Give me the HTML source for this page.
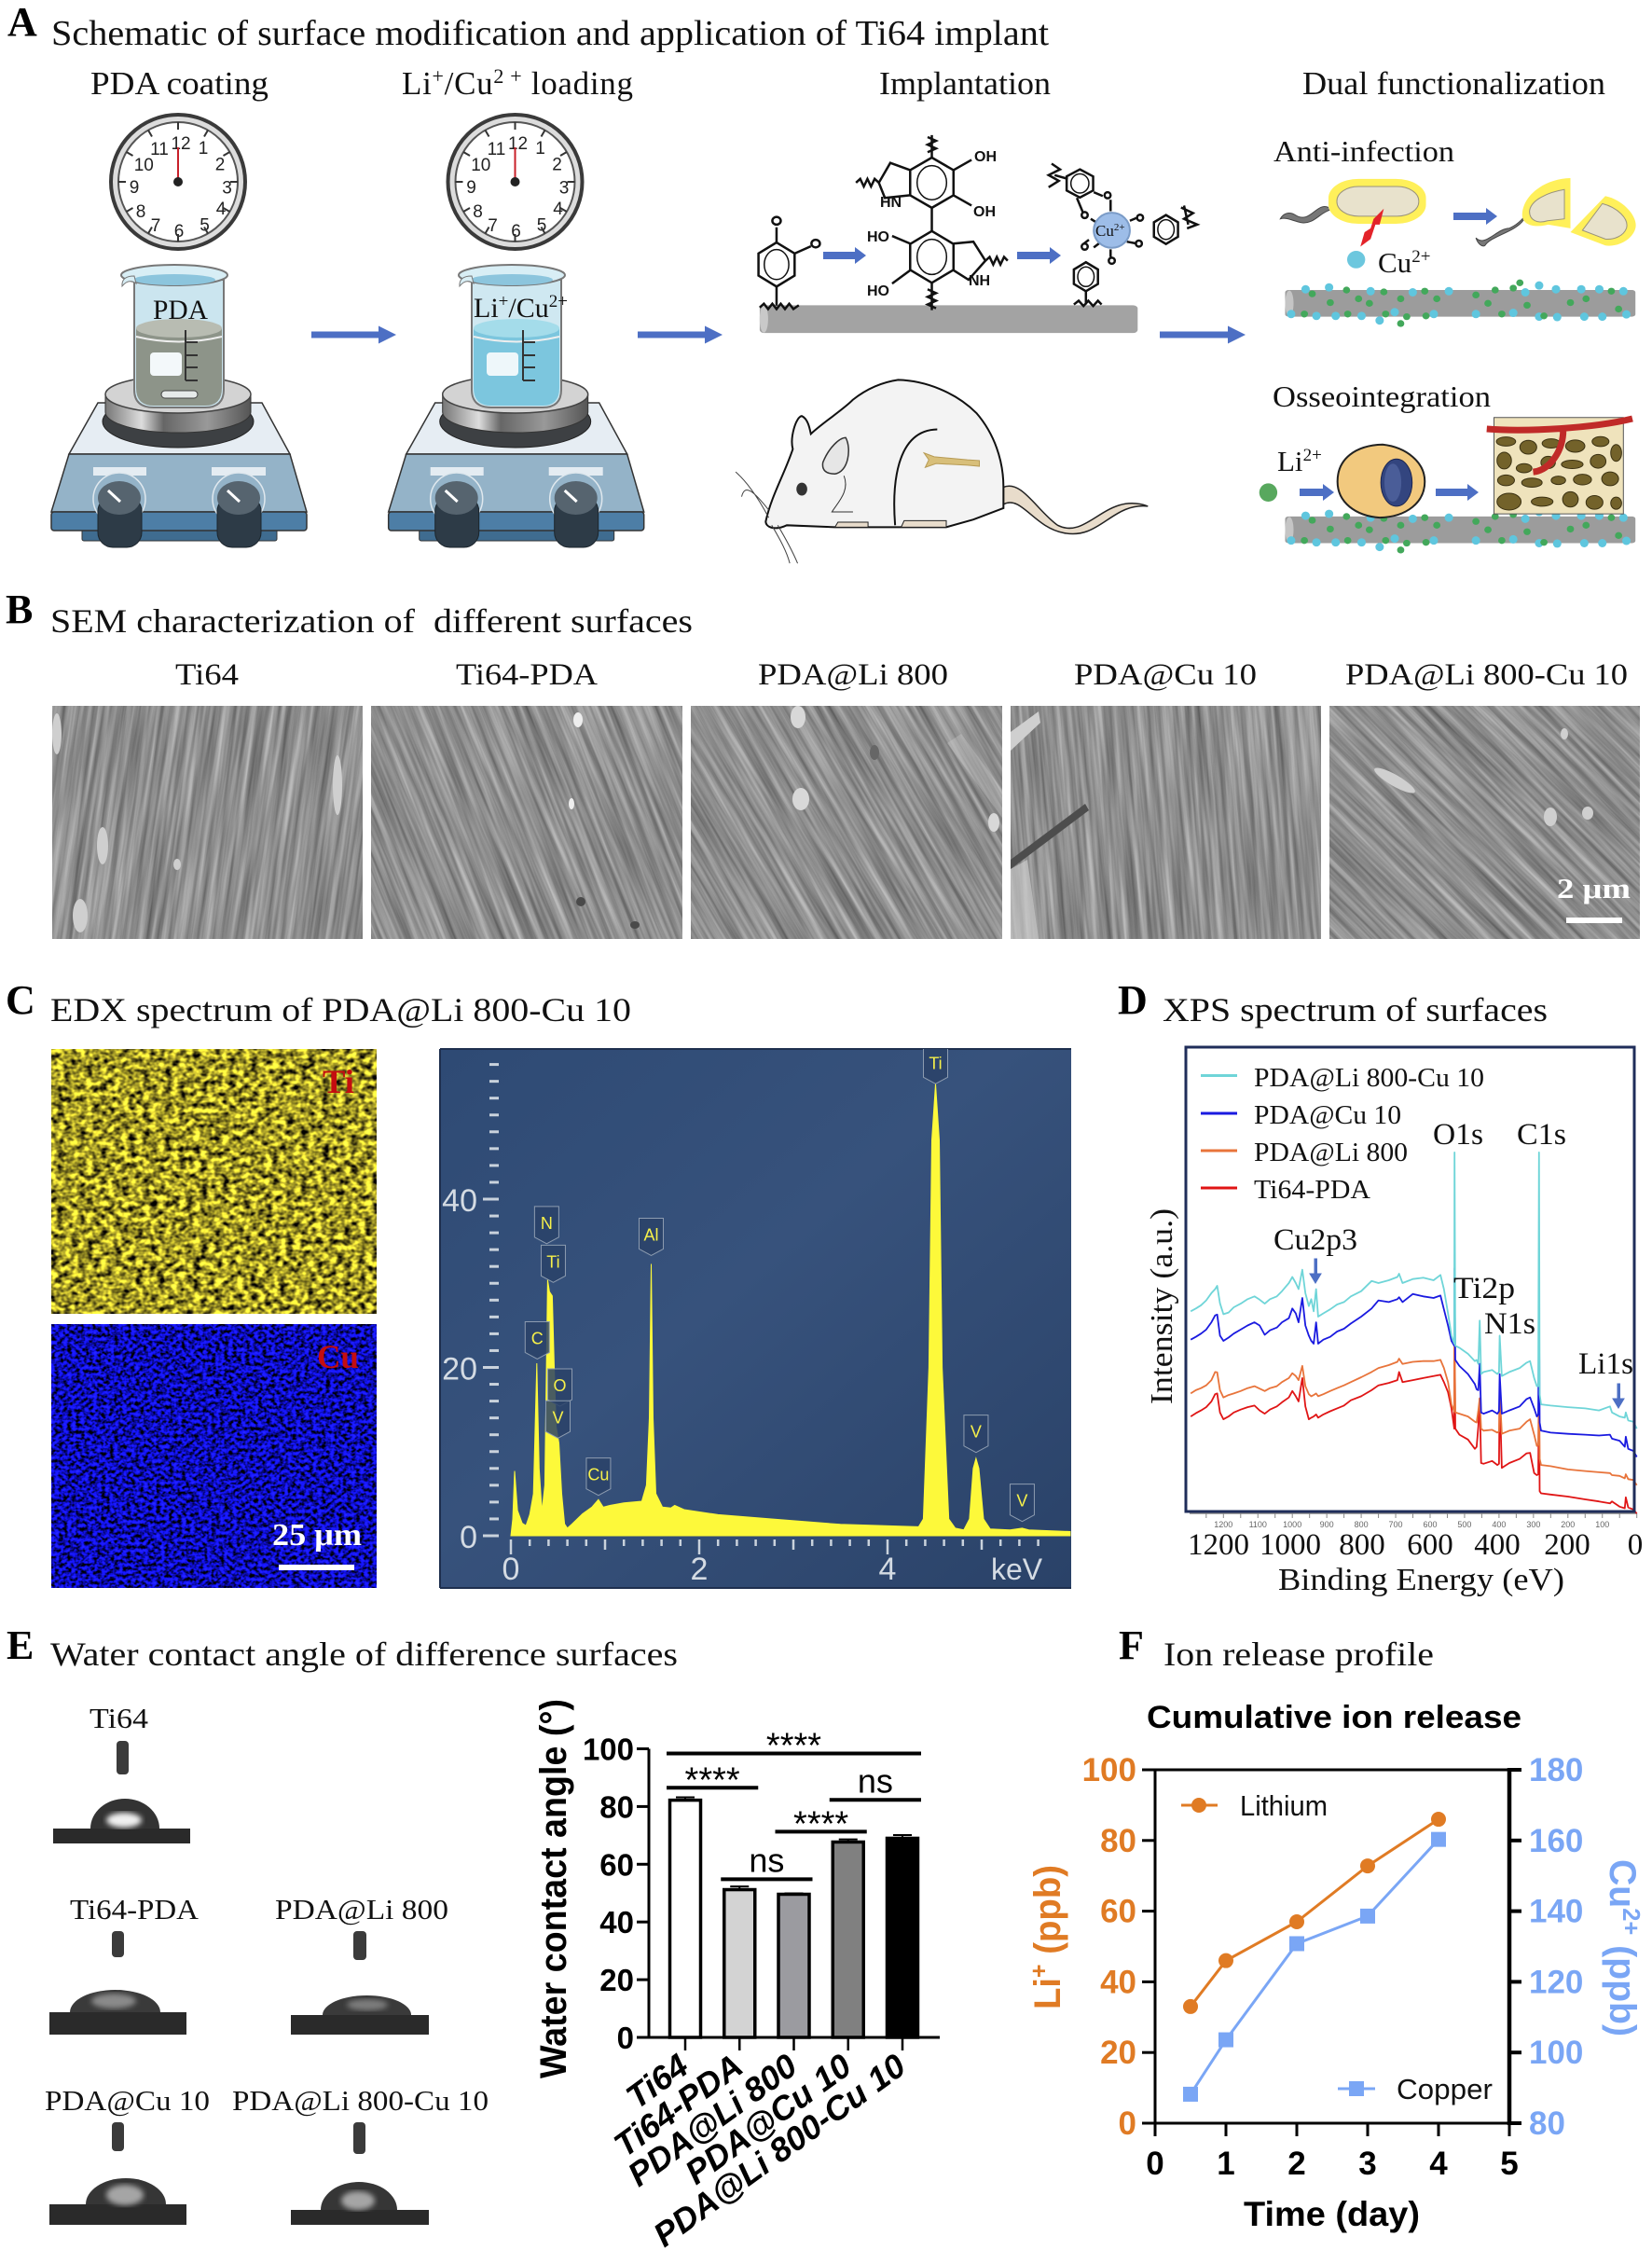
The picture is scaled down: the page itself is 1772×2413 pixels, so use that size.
<!DOCTYPE html>
<html lang="en">
<head>
<meta charset="utf-8">
<title>Ti64 implant surface modification figure</title>
<style>
html,body{margin:0;padding:0;background:#fff}
svg#fig{display:block}
text{white-space:pre}
.s{font-family:"Liberation Serif",serif;fill:#111}
.h{font-family:"Liberation Serif",serif;font-weight:bold;fill:#000;font-size:44px}
.a{font-family:"Liberation Sans",sans-serif}
#z2 *{vector-effect:non-scaling-stroke}
</style>
</head>
<body>
<svg id="fig" xmlns="http://www.w3.org/2000/svg" width="1772" height="2413" viewBox="0 0 1772 2413">
<defs>
  <filter id="sem" x="0" y="0" width="100%" height="100%" color-interpolation-filters="sRGB">
    <feTurbulence type="fractalNoise" baseFrequency="0.006 0.17" numOctaves="4" seed="7"/>
    <feColorMatrix type="matrix" values="0.5 0 0 0 0.31  0.5 0 0 0 0.31  0.5 0 0 0 0.31  0 0 0 0 1"/>
  </filter>
  <filter id="tiNoise" x="0" y="0" width="100%" height="100%" color-interpolation-filters="sRGB">
    <feTurbulence type="fractalNoise" baseFrequency="0.13 0.17" numOctaves="2" seed="4"/>
    <feColorMatrix type="matrix" values="2.2 0 0 0 -0.47  2.1 0 0 0 -0.46  0.5 0 0 0 -0.1  0 0 0 0 1"/>
  </filter>
  <filter id="cuNoise" x="0" y="0" width="100%" height="100%" color-interpolation-filters="sRGB">
    <feTurbulence type="fractalNoise" baseFrequency="0.22 0.26" numOctaves="2" seed="11"/>
    <feColorMatrix type="matrix" values="0.3 0 0 0 -0.1  0.3 0 0 0 -0.1  3 0 0 0 -0.8  0 0 0 0 1"/>
  </filter>
  <filter id="blur3"><feGaussianBlur stdDeviation="3"/></filter>
  <linearGradient id="edxBg" x1="0" y1="0" x2="1" y2="1">
    <stop offset="0" stop-color="#2e4a74"/><stop offset="0.45" stop-color="#37527c"/><stop offset="1" stop-color="#2a4268"/>
  </linearGradient>
  <linearGradient id="steel" x1="0" x2="1" y1="0" y2="0">
    <stop offset="0" stop-color="#777"/><stop offset="0.25" stop-color="#ddd"/><stop offset="0.4" stop-color="#666"/><stop offset="0.7" stop-color="#999"/><stop offset="1" stop-color="#555"/>
  </linearGradient>
  <g id="hotplate">
    <path d="M105 432H281L311 487H74Z" fill="#e6edf3" stroke="#333" stroke-width="1.5"/>
    <path d="M74 487H311L329 549H55Z" fill="#94b3c8" stroke="#333" stroke-width="1.5"/>
    <rect x="88" y="566" width="209" height="14" rx="2" fill="#3f6c90" stroke="#333"/>
    <rect x="55" y="549" width="274" height="20" rx="3" fill="#4d7ea6" stroke="#333" stroke-width="1.5"/>
    <rect x="100" y="501" width="57" height="9" fill="#e4ecf2"/>
    <rect x="227" y="501" width="58" height="9" fill="#e4ecf2"/>
    <ellipse cx="191" cy="452" rx="81" ry="28" fill="#3d4043" stroke="#222"/>
    <path d="M113 424V442A78 22 0 0 0 269 442V424Z" fill="url(#steel)" stroke="#333"/>
    <ellipse cx="191" cy="423" rx="78" ry="20" fill="#d3d3d3" stroke="#444" stroke-width="1.5"/>
    <circle cx="128" cy="535" r="28" fill="#94b3c8" stroke="#dfe8ee" stroke-width="1.5"/>
    <circle cx="256" cy="535" r="28" fill="#94b3c8" stroke="#dfe8ee" stroke-width="1.5"/>
    <rect x="105" y="532" width="47" height="55" rx="16" fill="#2d3b47" stroke="#1c252c"/>
    <rect x="233" y="532" width="47" height="55" rx="16" fill="#2d3b47" stroke="#1c252c"/>
    <ellipse cx="128" cy="534" rx="23" ry="18" fill="#56646f"/>
    <ellipse cx="256" cy="534" rx="23" ry="18" fill="#56646f"/>
    <path d="M116 526L129 538M244 526L257 538" stroke="#fff" stroke-width="3"/>
  </g>
  <clipPath id="tiClip"><rect x="55" y="1125" width="349" height="284"/></clipPath>
  <clipPath id="cuClip"><rect x="55" y="1420" width="349" height="283"/></clipPath>
  <clipPath id="edxClip"><rect x="472" y="1125" width="677" height="578"/></clipPath>
</defs>
<rect width="1772" height="2413" fill="#fff"/>

<!-- PANEL A -->
<g>
  <text class="h" x="8" y="38">A</text>
  <text class="s" x="55" y="48" font-size="38" textLength="1070" lengthAdjust="spacingAndGlyphs">Schematic of surface modification and application of Ti64 implant</text>
  <text class="s" x="97" y="101" font-size="35" textLength="191" lengthAdjust="spacingAndGlyphs">PDA coating</text>
  <text class="s" x="431" y="101" font-size="35" textLength="248" lengthAdjust="spacing">Li<tspan dy="-12" font-size="22">+</tspan><tspan dy="12">/Cu</tspan><tspan dy="-12" font-size="22">2 +</tspan><tspan dy="12"> loading</tspan></text>
  <text class="s" x="943" y="101" font-size="35" textLength="184" lengthAdjust="spacingAndGlyphs">Implantation</text>
  <text class="s" x="1397" y="101" font-size="35" textLength="325" lengthAdjust="spacingAndGlyphs">Dual functionalization</text>

  <g id="clocks"></g>

  <use href="#hotplate"/>
  <use href="#hotplate" x="361.7"/>

  <g>
    <path d="M144 300V418Q144 437 165 437H220Q240 437 240 418V300Z" fill="#cbe5ef" stroke="#777" stroke-width="2"/>
    <path d="M146 352Q192 338 238 352V416Q238 435 220 435H165Q146 435 146 416Z" fill="#8d9489"/>
    <ellipse cx="192" cy="352" rx="46" ry="10" fill="#b8bcb2"/>
    <path d="M146 361Q192 372 238 361" fill="none" stroke="#eee" stroke-width="2"/>
    <ellipse cx="187" cy="295" rx="57" ry="11" fill="#d8eef5" stroke="#777" stroke-width="2"/>
    <ellipse cx="187" cy="300" rx="44" ry="6" fill="#8cc5dd"/>
    <path d="M144 296Q130 296 131 307Q138 298 146 304Z" fill="#d8eef5" stroke="#777"/>
    <rect x="161" y="378" width="34" height="25" rx="4" fill="#f3f8fa"/>
    <path d="M199 354V408M199 367H212M199 381H212M199 394H212M199 408H212" fill="none" stroke="#333" stroke-width="2"/>
    <rect x="173" y="419" width="39" height="8" rx="4" fill="#e6eaea" stroke="#444"/>
  </g>
  <text class="s" x="164" y="342" font-size="30" textLength="59" lengthAdjust="spacingAndGlyphs">PDA</text>

  <g>
    <path d="M506 300V418Q506 437 527 437H582Q602 437 602 418V300Z" fill="#cfe8f1" stroke="#777" stroke-width="2"/>
    <path d="M508 352Q554 338 600 352V416Q600 435 582 435H527Q508 435 508 416Z" fill="#7cc6de"/>
    <ellipse cx="554" cy="352" rx="46" ry="10" fill="#a4dcea"/>
    <path d="M508 361Q554 372 600 361" fill="none" stroke="#eee" stroke-width="2"/>
    <ellipse cx="549" cy="295" rx="57" ry="11" fill="#d8eef5" stroke="#777" stroke-width="2"/>
    <ellipse cx="549" cy="300" rx="44" ry="6" fill="#8cc5dd"/>
    <path d="M506 296Q492 296 493 307Q500 298 508 304Z" fill="#d8eef5" stroke="#777"/>
    <rect x="522" y="378" width="34" height="25" rx="4" fill="#eef7fa"/>
    <path d="M561 354V408M561 367H574M561 381H574M561 394H574M561 408H574" fill="none" stroke="#333" stroke-width="2"/>
  </g>
  <text class="s" x="508" y="340" font-size="30">Li<tspan dy="-11" font-size="19">+</tspan><tspan dy="11">/Cu</tspan><tspan dy="-11" font-size="19">2+</tspan></text>

  <g fill="#4d6fc4">
    <path d="M334 355.5H406V349.5L425 359L406 368.5V362.500H334Z"/>
    <path d="M684 355.5H756V349.5L775 359L756 368.5V362.500H684Z"/>
    <path d="M1244 355.5H1317V349.5L1336 359L1317 368.5V362.500H1244Z"/>
    <path d="M883 270H917V265L929 274L917 283V278H883Z"/>
    <path d="M1091 270H1126V265L1138 274L1126 283V278H1091Z"/>
    <path d="M1559 228H1594V223L1606 232L1594 241V236H1559Z"/>
    <path d="M1394 524H1419V519L1431 528L1419 537V532H1394Z"/>
    <path d="M1540 524H1574V519L1586 528L1574 537V532H1540Z"/>
  </g>

  <g id="z2" transform="translate(760,0) scale(0.6456,0.4082)">
    <g>
      <rect x="85" y="802" width="628" height="73" rx="8" fill="#a3a3a3"/>
      <ellipse cx="92" cy="838" rx="7" ry="36" fill="#c9c9c9"/>
    </g>
    <g id="rings" fill="none" stroke="#111" stroke-width="2.5">
      <path d="M113 637V597M143 666L170 647M113 753V803M371 414V355M407 447L437 420M407 513L437 540M371 546V607M335 447L302 428L283 480L293 520L335 513M335 640L305 620M335 710L305 745M371 743V815M407 640L440 635L460 685L432 735L407 710"/>
      <path d="M85 808L92 798L99 812L106 798L113 812L120 798L127 812L134 798L141 812L150 802"/>
      <path d="M245 480L252 470L258 490L264 470L270 490L276 470L283 480M460 685L467 675L473 695L479 675L485 695L491 675L497 685M364 360L378 370L364 380L378 390L364 400M364 760L378 770L364 780L378 790L364 800L378 810"/>
      <path d="M597 470L575 460M570 430L584 445L565 460L582 475L565 492M797 590L790 540M785 545L805 560L790 575L812 590L795 600M627 765V800M607 800L615 790L623 804L631 790L639 804L647 790L653 800"/>
      <path d="M640 505L655 515M612 520L622 558M668 525L668 555M635 575L650 590M700 580L712 572M695 635L712 640M632 630L622 642M640 650L655 632M668 655L668 675"/>
      <ellipse cx="113" cy="580" rx="7" ry="10" fill="#fff"/>
      <ellipse cx="178" cy="640" rx="7" ry="10" fill="#fff"/>
      <ellipse cx="663" cy="513" rx="5" ry="8" fill="#fff"/>
      <ellipse cx="625" cy="565" rx="5" ry="8" fill="#fff"/>
      <ellipse cx="717" cy="572" rx="5" ry="8" fill="#fff"/>
      <ellipse cx="715" cy="640" rx="5" ry="8" fill="#fff"/>
      <ellipse cx="625" cy="648" rx="5" ry="8" fill="#fff"/>
      <ellipse cx="670" cy="685" rx="5" ry="8" fill="#fff"/>
    </g>
    <ellipse cx="670" cy="605" rx="30" ry="46" fill="#9dbde8" stroke="#7a9bc7" stroke-width="2"/>

    <g>
      <path d="M490 1280C520 1260 545 1340 580 1380C630 1420 660 1290 730 1330C670 1320 650 1420 590 1400C540 1385 520 1300 490 1325Z" fill="#e8dccb" stroke="#222" stroke-width="1.5"/>
      <path d="M95 1370C105 1300 125 1250 140 1180C135 1150 145 1095 155 1093C165 1100 168 1125 170 1140C190 1110 225 1075 240 1050C260 1025 285 1005 315 998C360 1000 410 1030 445 1085C475 1140 490 1210 490 1280L490 1335L440 1365L395 1385L320 1385L210 1385L130 1380C110 1395 95 1385 95 1370Z" fill="#f3f3f3" stroke="#111" stroke-width="2"/>
      <path d="M310 1380C305 1280 310 1130 380 1128" fill="none" stroke="#111" stroke-width="2"/>
      <path d="M190 1215C200 1175 218 1150 228 1150C238 1180 232 1240 210 1245C195 1245 188 1235 190 1215Z" fill="#e6e6e6" stroke="#333" stroke-width="1.5"/>
      <path d="M225 1250C235 1290 215 1320 205 1345L240 1345" fill="none" stroke="#333"/>
      <ellipse cx="155" cy="1285" rx="9" ry="17" fill="#333"/>
      <path d="M100 1360C80 1300 60 1260 45 1240M100 1340C75 1290 60 1270 55 1305M105 1380C120 1420 130 1450 135 1480M115 1380C130 1420 140 1450 148 1480" fill="none" stroke="#444"/>
      <path d="M210 1385H265V1372H215ZM320 1385H395V1368H325Z" fill="#e8dccb" stroke="#222"/>
      <path d="M358 1190L375 1200L430 1208L450 1210V1225L430 1222L378 1218L360 1228L366 1208Z" fill="#d8bf7a" stroke="#b79b55"/>
    </g>

    <g>
      <path d="M1030 545C1010 530 1000 590 975 565C965 555 955 560 950 575C960 570 970 580 985 585C1005 590 1015 560 1032 552" fill="#777" stroke="#444"/>
      <rect x="1030" y="470" width="162" height="118" rx="50" ry="50" fill="#fff05a"/>
      <rect x="1044" y="490" width="136" height="78" rx="36" ry="38" fill="#e8e2cc" stroke="#9a937c"/>
      <path d="M1122 548L1115 590L1108 590L1100 628L1083 648L1090 610L1100 600L1105 575Z" fill="#e3232a"/>
      <path d="M1275 625C1290 650 1310 600 1330 600C1345 590 1352 575 1358 565L1354 578C1340 610 1300 620 1290 645C1285 650 1278 640 1275 625Z" fill="#777" stroke="#444"/>
      <path d="M1352 560C1355 510 1390 470 1432 468V600L1395 590C1370 600 1350 590 1352 560Z" fill="#fff05a"/>
      <path d="M1364 555C1366 525 1395 505 1422 498V575L1394 580C1378 588 1364 580 1364 555Z" fill="#e8e2cc" stroke="#9a937c"/>
      <path d="M1432 610L1490 515C1520 525 1545 570 1540 600C1535 630 1510 650 1490 645Z" fill="#fff05a"/>
      <path d="M1452 605L1485 535C1510 545 1530 575 1525 600C1520 620 1505 630 1490 628Z" fill="#e8e2cc" stroke="#9a937c"/>
    </g>
    <ellipse cx="1076" cy="682" rx="15" ry="23" fill="#6cc7de"/>

    <g>
      <rect x="958" y="762" width="582" height="70" rx="6" fill="#9c9c9c"/>
      <ellipse cx="965" cy="797" rx="7" ry="34" fill="#c5c5c5"/>
    </g>
    <g>
      <rect x="958" y="1357" width="582" height="70" rx="6" fill="#9c9c9c"/>
      <ellipse cx="965" cy="1392" rx="7" ry="34" fill="#c5c5c5"/>
    </g>
    <g id="rodDots"></g>
    <use href="#rodDots" y="595"/>

    <g>
      <path d="M1045 1265C1045 1205 1075 1170 1120 1168C1160 1175 1190 1215 1190 1265C1190 1320 1160 1358 1115 1360C1075 1355 1045 1320 1045 1265Z" fill="#f2c97e" stroke="#222" stroke-width="2"/>
      <ellipse cx="1143" cy="1268" rx="26" ry="62" fill="#33457f" stroke="#1b2550"/>
      <ellipse cx="1137" cy="1268" rx="14" ry="50" fill="#5a6ea8" opacity="0.6"/>
    </g>
    <ellipse cx="930" cy="1294" rx="15" ry="24" fill="#58a85e"/>

    <g>
      <rect x="1305" y="1097" width="215" height="253" fill="#efe3bc" stroke="#555"/>
      <g fill="#73622a" stroke="#3b3112">
        <ellipse cx="1325" cy="1160" rx="16" ry="12"/><ellipse cx="1362" cy="1175" rx="14" ry="18"/><ellipse cx="1400" cy="1165" rx="15" ry="12"/><ellipse cx="1440" cy="1172" rx="16" ry="16"/><ellipse cx="1482" cy="1160" rx="14" ry="13"/><ellipse cx="1508" cy="1190" rx="9" ry="22"/>
        <ellipse cx="1322" cy="1210" rx="12" ry="22"/><ellipse cx="1355" cy="1230" rx="13" ry="12"/><ellipse cx="1395" cy="1215" rx="12" ry="16"/><ellipse cx="1435" cy="1220" rx="18" ry="11"/><ellipse cx="1478" cy="1212" rx="13" ry="18"/>
        <ellipse cx="1325" cy="1262" rx="14" ry="14"/><ellipse cx="1368" cy="1268" rx="17" ry="12"/><ellipse cx="1412" cy="1262" rx="12" ry="11"/><ellipse cx="1452" cy="1260" rx="15" ry="14"/><ellipse cx="1498" cy="1258" rx="14" ry="18"/>
        <ellipse cx="1330" cy="1318" rx="20" ry="22"/><ellipse cx="1385" cy="1318" rx="18" ry="12"/><ellipse cx="1432" cy="1312" rx="13" ry="20"/><ellipse cx="1472" cy="1320" rx="14" ry="18"/><ellipse cx="1508" cy="1322" rx="9" ry="16"/>
      </g>
      <path d="M1293 1127C1360 1135 1470 1125 1535 1100M1420 1130C1420 1180 1400 1235 1370 1240" fill="none" stroke="#c02a28" stroke-width="7"/>
    </g>
  </g>

  <text class="s" x="1366" y="173" font-size="32" textLength="194" lengthAdjust="spacingAndGlyphs">Anti-infection</text>
  <text class="s" x="1478" y="292" font-size="31">Cu<tspan dy="-11" font-size="19">2+</tspan></text>
  <text class="s" x="1365" y="436" font-size="32" textLength="234" lengthAdjust="spacingAndGlyphs">Osseointegration</text>
  <text class="s" x="1370" y="505" font-size="31">Li<tspan dy="-11" font-size="19">2+</tspan></text>
  <g class="a" font-size="16" font-weight="bold" fill="#111">
    <text x="1045" y="173">OH</text><text x="1044" y="232">OH</text><text x="944" y="222">HN</text>
    <text x="930" y="259">HO</text><text x="930" y="317">HO</text><text x="1039" y="306">NH</text>
  </g>
  <text class="s" x="1175" y="253" font-size="17" fill="#222">Cu<tspan dy="-6" font-size="11">2+</tspan></text>
</g>

<!-- PANEL B -->
<g>
  <text class="h" x="6" y="668">B</text>
  <text class="s" x="54" y="678" font-size="36" textLength="689" lengthAdjust="spacingAndGlyphs">SEM characterization of  different surfaces</text>
  <g font-size="33">
    <text class="s" x="188" y="734" textLength="68" lengthAdjust="spacingAndGlyphs">Ti64</text>
    <text class="s" x="489" y="734" textLength="152" lengthAdjust="spacingAndGlyphs">Ti64-PDA</text>
    <text class="s" x="813" y="734" textLength="204" lengthAdjust="spacingAndGlyphs">PDA@Li 800</text>
    <text class="s" x="1152" y="734" textLength="196" lengthAdjust="spacingAndGlyphs">PDA@Cu 10</text>
    <text class="s" x="1443" y="734" textLength="303" lengthAdjust="spacingAndGlyphs">PDA@Li 800-Cu 10</text>
  </g>
  <svg x="56" y="757" width="333" height="250" viewBox="0 0 333 250">
    <rect x="-300" y="-300" width="950" height="850" transform="rotate(-82 166 125)" filter="url(#sem)"/>
    <g fill="#cfcfcf"><ellipse cx="5" cy="30" rx="5" ry="22"/><ellipse cx="306" cy="85" rx="5" ry="32"/><ellipse cx="54" cy="150" rx="6" ry="20"/><ellipse cx="134" cy="170" rx="4" ry="6"/><ellipse cx="30" cy="225" rx="8" ry="18"/></g>
  </svg>
  <svg x="398" y="757" width="334" height="250" viewBox="0 0 334 250">
    <rect x="-300" y="-300" width="950" height="850" transform="rotate(68 167 125)" filter="url(#sem)"/>
    <g fill="#eee"><ellipse cx="222" cy="15" rx="5" ry="8"/><ellipse cx="215" cy="105" rx="3" ry="6"/></g>
    <g fill="#4a4a4a"><ellipse cx="225" cy="210" rx="5" ry="5"/><ellipse cx="283" cy="235" rx="5" ry="4"/></g>
  </svg>
  <svg x="741" y="757" width="334" height="250" viewBox="0 0 334 250">
    <rect x="-300" y="-300" width="950" height="850" transform="rotate(60 167 125)" filter="url(#sem)"/>
    <g fill="#d8d8d8"><ellipse cx="115" cy="12" rx="8" ry="12"/><ellipse cx="118" cy="100" rx="9" ry="12"/><ellipse cx="325" cy="125" rx="6" ry="10"/><path d="M275 40L334 120V90L290 30Z" opacity="0.3"/></g>
    <ellipse cx="197" cy="50" rx="5" ry="8" fill="#666"/>
  </svg>
  <svg x="1084" y="757" width="333" height="250" viewBox="0 0 333 250">
    <rect x="-300" y="-300" width="950" height="850" transform="rotate(85 166 125)" filter="url(#sem)"/>
    <path d="M0 28L30 6L32 18L0 48Z" fill="#cfcfcf"/>
    <path d="M0 165L80 105L84 112L0 175Z" fill="#4d4d4d"/>
    <path d="M0 175L18 165L30 250H0Z" fill="#d0d0d0" opacity="0.65"/>
  </svg>
  <svg x="1426" y="757" width="333" height="250" viewBox="0 0 333 250">
    <rect x="-300" y="-300" width="950" height="850" transform="rotate(45 166 125)" filter="url(#sem)"/>
    <g fill="#cfcfcf"><ellipse cx="252" cy="30" rx="4" ry="6"/><ellipse cx="237" cy="119" rx="7" ry="10"/><ellipse cx="277" cy="115" rx="6" ry="7"/><ellipse cx="70" cy="80" rx="25" ry="6" transform="rotate(30 70 80)"/></g>
  </svg>
  <text class="s" x="1670" y="963" font-size="31" font-weight="bold" style="fill:#fff" textLength="79" lengthAdjust="spacingAndGlyphs">2 μm</text>
  <rect x="1680" y="984" width="60" height="6" fill="#fff"/>
</g>

<!-- PANEL C -->
<g>
  <text class="h" x="6" y="1087">C</text>
  <text class="s" x="54" y="1095" font-size="36" textLength="623" lengthAdjust="spacingAndGlyphs">EDX spectrum of PDA@Li 800-Cu 10</text>
  <g clip-path="url(#tiClip)"><rect x="55" y="1125" width="349" height="284" filter="url(#tiNoise)"/></g>
  <g clip-path="url(#cuClip)"><rect x="55" y="1420" width="349" height="283" filter="url(#cuNoise)"/></g>
  <text class="s" x="346" y="1172" font-size="36" font-weight="bold" style="fill:#c40d10" textLength="34" lengthAdjust="spacingAndGlyphs">Ti</text>
  <text class="s" x="340" y="1467" font-size="36" font-weight="bold" style="fill:#c40d10" textLength="45" lengthAdjust="spacingAndGlyphs">Cu</text>
  <text class="s" x="292" y="1657" font-size="34" font-weight="bold" style="fill:#fff" textLength="96" lengthAdjust="spacingAndGlyphs">25 μm</text>
  <rect x="299" y="1678" width="81" height="6" fill="#fff"/>
  <rect x="472" y="1125" width="677" height="578" fill="url(#edxBg)"/>
  <path d="M472 1125H1149M472 1125V1703M472 1703H1149" fill="none" stroke="#1e2f4e" stroke-width="2"/>
  <g id="edxChart" clip-path="url(#edxClip)"></g>
</g>

<!-- PANEL D -->
<g>
  <text class="h" x="1199" y="1087">D</text>
  <text class="s" x="1247" y="1095" font-size="36" textLength="413" lengthAdjust="spacingAndGlyphs">XPS spectrum of surfaces</text>
  <g id="xpsChart"></g>
  <rect x="1272" y="1123" width="481" height="498" fill="none" stroke="#1f2d5a" stroke-width="3"/>
  <g font-size="28">
    <text class="s" x="1345" y="1165" textLength="247" lengthAdjust="spacingAndGlyphs">PDA@Li 800-Cu 10</text>
    <text class="s" x="1345" y="1205" textLength="158" lengthAdjust="spacingAndGlyphs">PDA@Cu 10</text>
    <text class="s" x="1345" y="1245" textLength="165" lengthAdjust="spacingAndGlyphs">PDA@Li 800</text>
    <text class="s" x="1345" y="1285" textLength="125" lengthAdjust="spacingAndGlyphs">Ti64-PDA</text>
    <path d="M1288 1153.500H1327" stroke="#6fd5d8" stroke-width="3"/>
    <path d="M1288 1194H1327" stroke="#1a1ae0" stroke-width="3"/>
    <path d="M1288 1234H1327" stroke="#e8743b" stroke-width="3"/>
    <path d="M1288 1274H1327" stroke="#e01515" stroke-width="3"/>
  </g>
  <g font-size="33">
    <text class="s" x="1537" y="1227" textLength="54" lengthAdjust="spacingAndGlyphs">O1s</text>
    <text class="s" x="1627" y="1227" textLength="53" lengthAdjust="spacingAndGlyphs">C1s</text>
    <text class="s" x="1366" y="1340" textLength="90" lengthAdjust="spacingAndGlyphs">Cu2p3</text>
    <text class="s" x="1559" y="1392" textLength="66" lengthAdjust="spacingAndGlyphs">Ti2p</text>
    <text class="s" x="1592" y="1430" textLength="55" lengthAdjust="spacingAndGlyphs">N1s</text>
    <text class="s" x="1693" y="1473" textLength="59" lengthAdjust="spacingAndGlyphs">Li1s</text>
    <path d="M1410 1350H1412.500V1366H1417L1411 1376L1405 1366H1410Z" fill="#4d6fc4" stroke="#4d6fc4"/>
    <path d="M1735 1484H1737.500V1500H1742L1736 1510L1730 1500H1735Z" fill="#4d6fc4" stroke="#4d6fc4"/>
  </g>
  <g font-size="33">
    <text class="s" x="1307" y="1667" text-anchor="middle">1200</text>
    <text class="s" x="1384" y="1667" text-anchor="middle">1000</text>
    <text class="s" x="1461" y="1667" text-anchor="middle">800</text>
    <text class="s" x="1534" y="1667" text-anchor="middle">600</text>
    <text class="s" x="1606" y="1667" text-anchor="middle">400</text>
    <text class="s" x="1681" y="1667" text-anchor="middle">200</text>
    <text class="s" x="1754" y="1667" text-anchor="middle">0</text>
  </g>
  <text class="s" x="1371" y="1705" font-size="34" textLength="307" lengthAdjust="spacingAndGlyphs">Binding Energy (eV)</text>
  <text class="s" transform="translate(1257,1506) rotate(-90)" font-size="34" textLength="210" lengthAdjust="spacingAndGlyphs">Intensity (a.u.)</text>
</g>

<!-- PANEL E -->
<g>
  <text class="h" x="7" y="1779">E</text>
  <text class="s" x="54" y="1786" font-size="36" textLength="673" lengthAdjust="spacingAndGlyphs">Water contact angle of difference surfaces</text>
  <g font-size="31">
    <text class="s" x="96" y="1853" textLength="63" lengthAdjust="spacingAndGlyphs">Ti64</text>
    <text class="s" x="75" y="2058" textLength="138" lengthAdjust="spacingAndGlyphs">Ti64-PDA</text>
    <text class="s" x="295" y="2058" textLength="186" lengthAdjust="spacingAndGlyphs">PDA@Li 800</text>
    <text class="s" x="48" y="2263" textLength="177" lengthAdjust="spacingAndGlyphs">PDA@Cu 10</text>
    <text class="s" x="249" y="2263" textLength="275" lengthAdjust="spacingAndGlyphs">PDA@Li 800-Cu 10</text>
  </g>
  <g>
    <rect x="125" y="1867" width="13" height="36" rx="4" fill="#3b3b3b"/>
    <path d="M97 1961A37 32 0 0 1 171 1961Z" fill="#333"/>
    <rect x="57" y="1961" width="147" height="16" fill="#2a2a2a"/>
    <ellipse cx="133" cy="1952" rx="19" ry="8" fill="#f0f0f0" filter="url(#blur3)"/>
  </g>
  <g>
    <rect x="120" y="2071" width="13" height="28" rx="4" fill="#3b3b3b"/>
    <path d="M75 2158A48.500 24 0 0 1 172 2158Z" fill="#3a3a3a"/>
    <rect x="53" y="2158" width="147" height="24" fill="#2a2a2a"/>
    <ellipse cx="122" cy="2146" rx="24" ry="8" fill="#8a8a8a" filter="url(#blur3)"/>
  </g>
  <g>
    <rect x="379" y="2071" width="14" height="31" rx="4" fill="#3b3b3b"/>
    <path d="M346 2161A47.500 21 0 0 1 441 2161Z" fill="#3a3a3a"/>
    <rect x="312" y="2161" width="148" height="21" fill="#2a2a2a"/>
    <ellipse cx="394" cy="2150" rx="22" ry="6" fill="#7d7d7d" filter="url(#blur3)"/>
  </g>
  <g>
    <rect x="120" y="2276" width="13" height="31" rx="4" fill="#3b3b3b"/>
    <path d="M92 2364A43 28 0 0 1 178 2364Z" fill="#363636"/>
    <rect x="53" y="2364" width="147" height="22" fill="#2a2a2a"/>
    <ellipse cx="134" cy="2354" rx="20" ry="11" fill="#a5a5a5" filter="url(#blur3)"/>
  </g>
  <g>
    <rect x="379" y="2276" width="13" height="34" rx="4" fill="#3b3b3b"/>
    <path d="M344 2370A41 30 0 0 1 426 2370Z" fill="#363636"/>
    <rect x="312" y="2370" width="148" height="16" fill="#2a2a2a"/>
    <ellipse cx="384" cy="2360" rx="18" ry="10" fill="#a5a5a5" filter="url(#blur3)"/>
  </g>
  <g id="barChart"></g>
  <text class="a" transform="translate(607,2229) rotate(-90)" font-size="40" font-weight="bold" fill="#000" textLength="407" lengthAdjust="spacingAndGlyphs">Water contact angle (°)</text>
</g>

<!-- PANEL F -->
<g>
  <text class="h" x="1200" y="1779">F</text>
  <text class="s" x="1248" y="1786" font-size="36" textLength="290" lengthAdjust="spacingAndGlyphs">Ion release profile</text>
  <text class="a" x="1230" y="1853" font-size="34" font-weight="bold" fill="#000" textLength="402" lengthAdjust="spacingAndGlyphs">Cumulative ion release</text>
  <g id="ionChart"></g>
  <text class="a" x="1334" y="2387" font-size="37" font-weight="bold" fill="#000" textLength="189" lengthAdjust="spacingAndGlyphs">Time (day)</text>
  <text class="a" transform="translate(1137,2155) rotate(-90)" font-size="40" font-weight="bold" fill="#e07b24" textLength="155" lengthAdjust="spacingAndGlyphs">Li<tspan dy="-14" font-size="26">+</tspan><tspan dy="14"> (ppb)</tspan></text>
  <text class="a" transform="translate(1727,1994) rotate(90)" font-size="40" font-weight="bold" fill="#7aa6f5" textLength="190" lengthAdjust="spacingAndGlyphs">Cu<tspan dy="-14" font-size="26">2+</tspan><tspan dy="14"> (ppb)</tspan></text>
  <g>
    <path d="M1267 1936H1306" stroke="#e07b24" stroke-width="3"/>
    <circle cx="1286" cy="1936" r="8" fill="#e07b24"/>
    <text class="a" x="1330" y="1947" font-size="31" fill="#111" textLength="94" lengthAdjust="spacingAndGlyphs">Lithium</text>
  </g>
  <g>
    <path d="M1435 2240H1475" stroke="#7aa6f5" stroke-width="3"/>
    <rect x="1447" y="2232" width="16" height="16" fill="#7aa6f5"/>
    <text class="a" x="1498" y="2251" font-size="31" fill="#111" textLength="103" lengthAdjust="spacingAndGlyphs">Copper</text>
  </g>
</g>

<script>
/* ---------- chart data ---------- */
const edxKev = [0,0.02,0.04,0.07,0.12,0.16,0.2,0.24,0.275,0.3,0.33,0.36,0.39,0.41,0.44,0.46,0.48,0.51,0.54,0.57,0.6,0.65,0.76,0.86,0.93,0.98,1.05,1.2,1.39,1.44,1.47,1.49,1.51,1.54,1.61,1.7,1.74,1.84,2.2,2.77,3.5,4.33,4.38,4.44,4.47,4.51,4.55,4.58,4.65,4.72,4.81,4.87,4.91,4.94,4.97,5.02,5.09,5.3,5.43,5.5,5.94];
const edxCounts = [0,2,7.7,3,1.5,1.2,2.5,5,20.5,8,2.9,6,30.4,29,28.5,20,13,11,5,1.4,0.9,1.4,2.6,3.4,4.3,3.4,3.6,3.9,4.1,6,14,32.3,14,5,3.4,3.3,3.6,3.1,2.5,2,1.35,1.06,2,20,47,53.7,47,20,2,0.9,0.7,2,8,9.2,8,2,0.8,0.7,0.9,0.7,0.5];
const edxPeakNames = ['N','Ti','C','O','V','Cu','Al','Ti','V','V'];
const edxPeakKev = [0.38,0.45,0.28,0.52,0.5,0.93,1.49,4.51,4.94,5.43];
const edxPeakCounts = [34.7,30.1,21,15.4,11.6,4.8,33.3,53.7,9.9,1.7];
const edxYLabels = [0,20,40];
const edxXLabels = [0,2,4];

const xpsEnergies = [1295,1280,1265,1250,1235,1224,1218,1210,1200,1185,1170,1150,1130,1110,1095,1080,1065,1045,1030,1010,1000,990,982,971,962,952,945,938,931,925,910,890,870,850,830,800,770,750,720,695,690,680,650,620,590,570,560,548,538,530,529,527,515,490,470,465,460,456,452,445,420,405,400,398,392,370,340,320,310,298,290,286,284,282,278,250,200,150,110,78,72,50,35,32,25,10,0];
const xpsLiCu = [495,502,510,522,540,550,558,515,488,492,505,514,525,532,524,514,525,532,545,565,580,565,550,598,540,508,525,495,550,482,490,500,512,518,532,545,570,565,572,580,588,565,575,578,572,585,550,490,435,415,888,410,405,390,372,375,365,472,340,345,350,340,345,435,335,345,355,368,372,330,310,310,888,290,265,262,258,255,250,260,245,235,232,245,225,222,205];
const xpsCu = [425,432,440,450,468,485,487,435,422,430,440,450,460,468,460,437,448,455,468,478,502,490,468,528,460,435,422,415,468,415,425,432,445,452,465,482,502,522,518,525,530,518,538,532,528,534,500,460,422,410,602,375,360,340,315,302,300,365,245,242,250,242,248,340,242,250,260,278,282,255,235,240,525,220,200,195,192,190,188,190,180,175,160,185,155,150,135];
const xpsLi = [292,300,305,312,325,345,344,300,282,288,292,298,305,310,304,298,305,310,320,330,342,335,325,360,310,290,285,288,292,285,290,298,305,312,320,332,345,355,362,370,378,365,370,372,372,375,355,320,265,248,470,245,242,235,222,220,250,280,205,200,202,195,198,300,192,200,205,222,228,190,162,165,340,130,115,112,104,100,97,95,90,88,82,92,80,78,65];
const xpsPda = [235,243,250,258,272,290,292,245,228,235,245,252,258,262,250,242,252,260,270,282,298,285,272,330,260,228,232,235,240,232,240,248,255,262,275,285,300,312,318,325,345,320,325,330,335,338,320,295,255,205,460,205,190,178,155,160,210,280,120,118,125,115,118,295,108,120,130,144,145,95,90,92,330,50,45,42,37,30,25,20,25,12,8,35,10,5,-5];
const xpsSeriesNames = ['ti64-pda','pda-li-800','pda-cu-10','pda-li-800-cu-10'];
const xpsSmallLabels = [1200,1100,1000,900,800,700,600,500,400,300,200,100];

const barCategories = ['Ti64','Ti64-PDA','PDA@Li 800','PDA@Cu 10','PDA@Li 800-Cu 10'];
const barValues = [82.2,51.2,49.6,67.7,69];
const barErrors = [1.0,1.1,0.3,0.9,1.1];
const barFills = ['#ffffff','#d3d3d3','#9b9ba0','#808080','#000000'];
const barYTicks = [0,20,40,60,80,100];
const sigFrom = [0,0,1,2,3];
const sigTo = [4,1,2,3,4];
const sigLevel = [98.4,86.5,54.8,71.3,82.3];
const sigText = ['****','****','ns','****','ns'];

const ionDays = [0.5,1,2,3,4];
const lithiumValues = [33,46,57,72.8,86];
const copperValues = [88.2,103.6,130.8,138.6,160.3];
const liTicks = [0,20,40,60,80,100];
const cuTicks = [80,100,120,140,160,180];
const dayTicks = [0,1,2,3,4,5];

/* ---------- helpers ---------- */
const NS = 'http://www.w3.org/2000/svg';
function mk(tag, attrs, parent) {
  const n = document.createElementNS(NS, tag);
  for (const k in attrs) n.setAttribute(k, attrs[k]);
  parent.appendChild(n);
  return n;
}
function polyPath(xs, ys) {
  return xs.map((x, i) => (i ? 'L' : 'M') + x.toFixed(1) + ' ' + ys[i].toFixed(1)).join('');
}

/* ---------- clocks ---------- */
const clockLabels = ['1','2','3','4','5','6','7','8','9','10','11','12'];
const clockDx = [27,45,52.5,46,28.5,1,-24,-40,-47,-36.700,-20,3];
const clockDy = [-37,-19.6,5.7,28,45.7,51.8,46,31,4.9,-18.8,-36,-42];
[[191,195],[552.5,195]].forEach(function (c) {
  const host = document.getElementById('clocks');
  const g = mk('g', {transform: 'translate(' + c[0] + ',' + c[1] + ')'}, host);
  
  
  mk('circle', {r: 72, fill: '#dcdcdc', stroke: '#3a3a3a', 'stroke-width': 4}, g);
  mk('circle', {r: 64, fill: '#fff', stroke: '#555', 'stroke-width': 2}, g);
  for (let i = 0; i < 12; i++) {
    const a = i * Math.PI / 6;
    mk('line', {x1: 64 * Math.sin(a), y1: -64 * Math.cos(a), x2: 56 * Math.sin(a), y2: -56 * Math.cos(a), stroke: '#333', 'stroke-width': 2}, g);
    const t = mk('text', {x: clockDx[i], y: clockDy[i] + 7, 'text-anchor': 'middle', 'font-size': 19, fill: '#222', class: 'a'}, g);
    t.textContent = clockLabels[i];
  }
  mk('line', {x1: 0, y1: 0, x2: 0, y2: -37, stroke: '#c8202a', 'stroke-width': 2}, g);
  mk('circle', {r: 5, fill: '#222'}, g);
});

/* ---------- molecule rings ---------- */
[[113,695,30,58],[371,480,36,66],[371,675,36,68],[617,482,22,37],[760,603,20,38],[627,727,20,38]].forEach(function (r) {
  const host = document.getElementById('rings');
  const cx = r[0], cy = r[1], rx = r[2], ry = r[3];
  const pts = [[cx,cy-ry],[cx+rx,cy-ry/2],[cx+rx,cy+ry/2],[cx,cy+ry],[cx-rx,cy+ry/2],[cx-rx,cy-ry/2]].map(p => p.join(',')).join(' ');
  const hex = mk('polygon', {points: pts}, host);
  
  
  mk('ellipse', {cx: cx, cy: cy, rx: rx * 0.68, ry: ry * 0.68, 'stroke-width': 1.5}, host);
});

/* ---------- rod dots ---------- */
const cyanDotX = [992,1031,1100,1170,1230,1357,1380,1408,1450,1480,1520,968,1010,1042,1085,1115,1140,1205,1275,1337,1380,1410,1455,1485,1525];
const cyanDotY = [760,755,765,768,765,768,750,760,760,760,765,825,830,830,830,842,820,825,825,822,832,833,832,832,826];
const greenDotX = [1003,1060,1122,1190,1275,1307,1337,1348,1033,1080,1098,1150,1210,1295,1360,1432,1458,1500,990,1062,1125,1160,1150,1192,1318,1388,1512];
const greenDotY = [772,762,767,765,775,762,757,743,795,785,797,785,785,797,802,795,785,765,825,825,825,832,850,830,825,830,812];
(function () {
  const host = document.getElementById('rodDots');
  cyanDotX.forEach(function (x, i) { mk('ellipse', {cx: x, cy: cyanDotY[i], rx: 7, ry: 11, fill: '#5fc6de'}, host); });
  greenDotX.forEach(function (x, i) { mk('ellipse', {cx: x, cy: greenDotY[i], rx: 6, ry: 9, fill: '#43a85b'}, host); });
})();

/* ---------- EDX spectrum ---------- */
(function () {
  const g = document.getElementById('edxChart');
  const X = k => 548 + 101 * k;
  const Y = c => 1647 - 9.025 * c;
  const tickColor = '#c9d2dc';
  for (let c = 0; c <= 56; c += 2) {
    const major = c % 20 === 0;
    const t = mk('line', {x1: major ? 518 : 525, x2: 535, y1: Y(c), y2: Y(c), stroke: tickColor, 'stroke-width': 3}, g);
    
    
  }
  for (let i = 0; i <= 28; i++) {
    const k = i * 0.2;
    const major = i % 10 === 0;
    const t = mk('line', {x1: X(k), x2: X(k), y1: 1651, y2: major ? 1667 : (i % 5 === 0 ? 1662 : 1658), stroke: tickColor, 'stroke-width': 2.500}, g);
    
    
  }
  edxYLabels.forEach(function (v) {
    const t = mk('text', {x: 512, y: Y(v) + 13, 'text-anchor': 'end', 'font-size': 34, fill: '#d4dbe3', class: 'a'}, g);
    
    
    t.textContent = v;
  });
  edxXLabels.forEach(function (v) {
    const t = mk('text', {x: X(v), y: 1694, 'text-anchor': 'middle', 'font-size': 34, fill: '#d4dbe3', class: 'a'}, g);
    
    
    t.textContent = v;
  });
  const unit = mk('text', {x: 1063, y: 1694, 'font-size': 32, fill: '#d4dbe3', class: 'a'}, g);
  
  
  unit.textContent = 'keV';
  const d = polyPath(edxKev.map(X), edxCounts.map(Y)) + 'L' + X(edxKev[edxKev.length - 1]) + ' ' + Y(0) + 'L' + X(0) + ' ' + Y(0) + 'Z';
  const area = mk('path', {d: d, fill: '#fdf93a', stroke: '#fdf93a', 'stroke-width': 1}, g);
  
  
  edxPeakNames.forEach(function (name, i) {
    const x = X(edxPeakKev[i]), yb = Y(edxPeakCounts[i]);
    const box = mk('path', {d: 'M' + (x - 13) + ' ' + (yb - 40) + 'H' + (x + 13) + 'V' + (yb - 7) + 'L' + x + ' ' + yb + 'L' + (x - 13) + ' ' + (yb - 7) + 'Z', fill: '#2a4268', 'fill-opacity': 0.85, stroke: '#8d9cb0', 'stroke-width': 1}, g);
    
    
    const t = mk('text', {x: x, y: yb - 16, 'text-anchor': 'middle', 'font-size': 18, fill: '#f6f04a', class: 'a'}, g);
    
    
    t.textContent = name;
  });
})();

/* ---------- XPS spectrum ---------- */
(function () {
  const g = document.getElementById('xpsChart');
  const X = e => 1755.7 - 0.3695 * e;
  const Y = i => 1621 - i / 2.306;
  const axis = mk('line', {x1: 1276, x2: 1756, y1: 1623, y2: 1623, stroke: '#888', 'stroke-width': 1.5}, g);
  
  
  for (let e = 0; e <= 1250; e += 50) {
    const t = mk('line', {x1: X(e), x2: X(e), y1: 1623, y2: 1628, stroke: '#888', 'stroke-width': 1}, g);
    
    
  }
  xpsSmallLabels.forEach(function (e) {
    const t = mk('text', {x: X(e), y: 1638, 'text-anchor': 'middle', 'font-size': 9, fill: '#666', class: 'a'}, g);
    
    
    t.textContent = e;
  });
  const colors = ['#e01515', '#e8743b', '#1a1ae0', '#6fd5d8'];
  [xpsPda, xpsLi, xpsCu, xpsLiCu].forEach(function (vals, s) {
    const line = mk('path', {d: polyPath(xpsEnergies.map(X), vals.map(Y)), fill: 'none', stroke: colors[s], 'stroke-width': 1.8, 'stroke-linejoin': 'round'}, g);
    
    
  });
})();

/* ---------- bar chart ---------- */
(function () {
  const g = document.getElementById('barChart');
  const Y = v => 2185 - 3.095 * v;
  const X = i => 735 + 58.25 * i;
  const barW = 36;
  const yAxis = mk('line', {x1: 696, x2: 696, y1: Y(100), y2: Y(0), stroke: '#000', 'stroke-width': 3}, g);
  
  
  const xAxis = mk('line', {x1: 683, x2: 1008, y1: Y(0), y2: Y(0), stroke: '#000', 'stroke-width': 3}, g);
  
  
  barYTicks.forEach(function (v) {
    const t = mk('line', {x1: 683, x2: 696, y1: Y(v), y2: Y(v), stroke: '#000', 'stroke-width': 3}, g);
    
    
    const l = mk('text', {x: 680, y: Y(v) + 12, 'text-anchor': 'end', 'font-size': 33, 'font-weight': 'bold', fill: '#000', class: 'a'}, g);
    
    
    l.textContent = v;
  });
  barCategories.forEach(function (name, i) {
    const x = X(i);
    const err = mk('path', {d: 'M' + x + ' ' + Y(barValues[i]) + 'V' + Y(barValues[i] + barErrors[i]) + 'M' + (x - 10) + ' ' + Y(barValues[i] + barErrors[i]) + 'H' + (x + 10), stroke: '#000', 'stroke-width': 2, fill: 'none'}, g);
    
    
    const b = mk('rect', {x: x - barW / 2 + 1.5, y: Y(barValues[i]), width: barW - 3, height: Y(0) - Y(barValues[i]), fill: barFills[i], stroke: '#000', 'stroke-width': 3.5}, g);
    
    
    const t = mk('line', {x1: x, x2: x, y1: Y(0), y2: Y(0) + 14, stroke: '#000', 'stroke-width': 2.500}, g);
    
    
    const l = mk('text', {transform: 'translate(' + (x + 6) + ',' + (Y(0) + 36) + ') rotate(-36)', 'text-anchor': 'end', 'font-size': 36, 'font-weight': 'bold', 'font-style': 'italic', fill: '#000', class: 'a'}, g);
    
    
    l.textContent = name;
  });
  sigText.forEach(function (s, i) {
    const x1 = X(sigFrom[i]) - 20, x2 = X(sigTo[i]) + 20, y = Y(sigLevel[i]);
    const line = mk('line', {x1: x1, x2: x2, y1: y, y2: y, stroke: '#000', 'stroke-width': 4}, g);
    
    
    const stars = s !== 'ns';
    const t = mk('text', {x: (x1 + x2) / 2, y: stars ? y + 4 : y - 8, 'text-anchor': 'middle', 'font-size': stars ? 38 : 36, fill: '#000', class: 'a'}, g);
    
    
    t.textContent = s;
  });
})();

/* ---------- ion release chart ---------- */
(function () {
  const g = document.getElementById('ionChart');
  const X = d => 1239 + 76 * d;
  const YL = v => 2277 - 3.79 * v;
  const YR = v => 2277 - 3.79 * (v - 80);
  const frame = mk('path', {d: 'M' + X(0) + ' ' + YL(100) + 'V' + YL(0) + 'H' + X(5) + 'M' + X(0) + ' ' + YL(100) + 'H' + X(5), fill: 'none', stroke: '#000', 'stroke-width': 3}, g);
  
  
  const right = mk('line', {x1: X(5), x2: X(5), y1: YL(100) - 2, y2: YL(0) + 2, stroke: '#000', 'stroke-width': 4.500}, g);
  
  
  liTicks.forEach(function (v) {
    const t = mk('line', {x1: 1225, x2: X(0), y1: YL(v), y2: YL(v), stroke: '#000', 'stroke-width': 3}, g);
    
    
    const l = mk('text', {x: 1219, y: YL(v) + 12, 'text-anchor': 'end', 'font-size': 35, 'font-weight': 'bold', fill: '#e07b24', class: 'a'}, g);
    
    
    l.textContent = v;
  });
  cuTicks.forEach(function (v) {
    const t = mk('line', {x1: X(5), x2: 1632, y1: YR(v), y2: YR(v), stroke: '#000', 'stroke-width': 4}, g);
    
    
    const l = mk('text', {x: 1640, y: YR(v) + 12, 'font-size': 35, 'font-weight': 'bold', fill: '#7aa6f5', class: 'a'}, g);
    
    
    l.textContent = v;
  });
  dayTicks.forEach(function (v) {
    const t = mk('line', {x1: X(v), x2: X(v), y1: YL(0), y2: 2291, stroke: '#000', 'stroke-width': 3}, g);
    
    
    const l = mk('text', {x: X(v), y: 2332, 'text-anchor': 'middle', 'font-size': 35, 'font-weight': 'bold', fill: '#000', class: 'a'}, g);
    
    
    l.textContent = v;
  });
  const cuLine = mk('path', {d: polyPath(ionDays.map(X), copperValues.map(YR)), fill: 'none', stroke: '#7aa6f5', 'stroke-width': 3}, g);
  
  
  ionDays.forEach(function (d, i) {
    const m = mk('rect', {x: X(d) - 8, y: YR(copperValues[i]) - 8, width: 16, height: 16, fill: '#7aa6f5'}, g);
    
    
  });
  const liLine = mk('path', {d: polyPath(ionDays.map(X), lithiumValues.map(YL)), fill: 'none', stroke: '#e07b24', 'stroke-width': 3}, g);
  
  
  ionDays.forEach(function (d, i) {
    const m = mk('circle', {cx: X(d), cy: YL(lithiumValues[i]), r: 8, fill: '#e07b24'}, g);
    
    
  });
})();
</script>
</svg>
</body>
</html>
